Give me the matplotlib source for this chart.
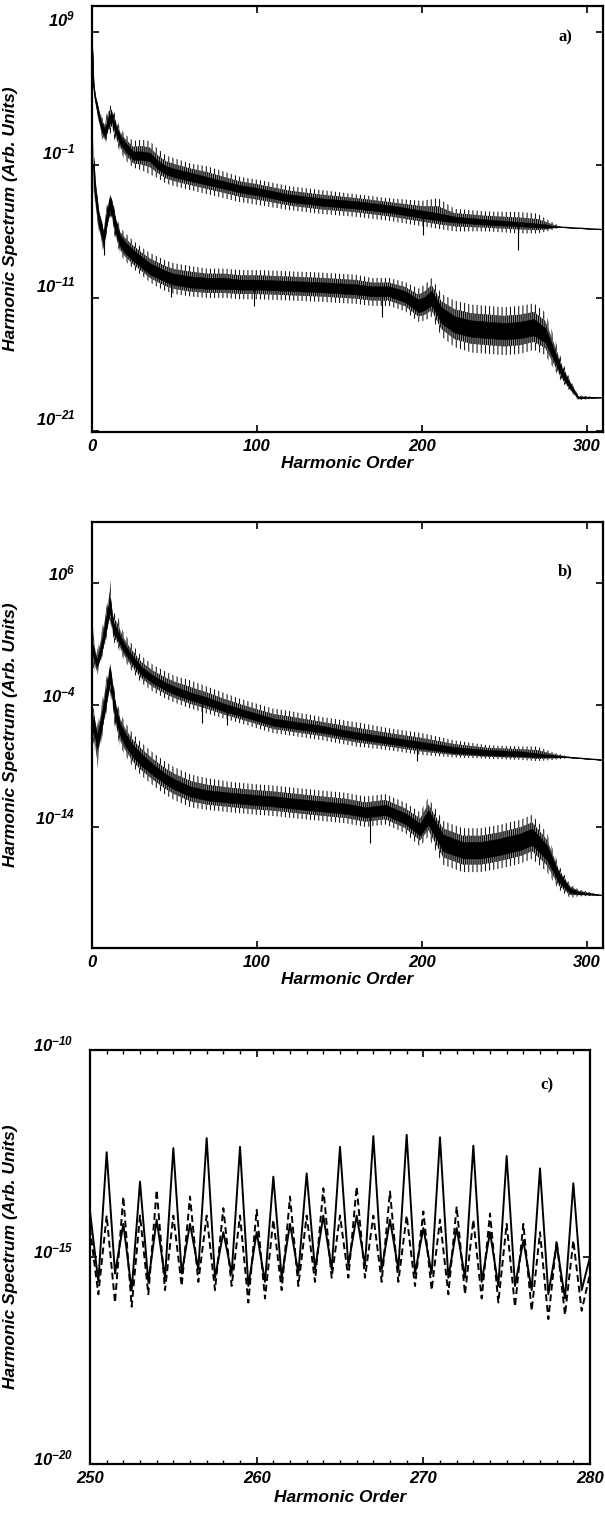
import numpy as np
import matplotlib
matplotlib.use('Agg')
import matplotlib.pyplot as plt
from matplotlib.ticker import FixedLocator, NullLocator, FixedFormatter
from matplotlib.transforms import ScaledTranslation

plt.rcParams['font.family'] = ['Liberation Sans', 'DejaVu Sans']
plt.rcParams['mathtext.fontset'] = 'custom'
plt.rcParams['mathtext.rm'] = 'Liberation Sans:bold:italic'
plt.rcParams['mathtext.it'] = 'Liberation Sans:bold:italic'
plt.rcParams['mathtext.bf'] = 'Liberation Sans:bold:italic'
plt.rcParams['hatch.linewidth'] = 0.7

# ---------------- data (log10 of spectrum) ----------------
# Panel a, upper curve
H_A1 = [0, 1, 2, 4, 6, 8, 10, 12, 14, 17, 20, 25, 30, 35, 40, 45, 50, 60, 70, 80,
        90, 100, 120, 140, 160, 180, 200, 210, 220, 240, 260, 270, 276, 280, 285, 309]
LOG_A1 = [8.5, 5.0, 4.0, 2.8, 1.8, 1.4, 2.3, 2.6, 1.8, 0.9, 0.4, -0.3, -0.3, -0.4, -1.0, -1.4, -1.6, -1.9, -2.2, -2.5,
          -2.8, -3.0, -3.5, -3.8, -4.0, -4.3, -4.7, -4.9, -5.1, -5.3, -5.45, -5.55, -5.6, -5.65, -5.68, -5.85]
CORE_A1 = [0.0, 0.1, 0.2, 0.3, 0.3, 0.32, 0.35, 0.35, 0.32, 0.32, 0.32, 0.32, 0.32, 0.32, 0.32, 0.32, 0.32, 0.32, 0.3, 0.28,
           0.28, 0.28, 0.28, 0.28, 0.28, 0.28, 0.28, 0.28, 0.22, 0.2, 0.16, 0.15, 0.12, 0.04, 0.0, 0.0]
UP_A1 = [0.0, 0.2, 0.3, 0.6, 0.8, 0.9, 1.2, 0.8, 1.0, 0.9, 0.9, 1.1, 1.2, 1.2, 1.2, 1.1, 1.1, 1.0, 1.1, 1.0,
         0.9, 0.9, 0.9, 0.9, 0.8, 0.8, 1.0, 1.4, 0.8, 0.8, 0.9, 0.9, 0.5, 0.3, 0.0, 0.0]
DOWN_A1 = [0.0, 0.2, 0.4, 0.5, 0.8, 0.8, 1.1, 1.1, 1.0, 0.9, 1.0, 0.9, 1.1, 1.3, 1.0, 1.0, 1.0, 1.0, 1.0, 1.0,
           1.0, 1.0, 0.9, 0.9, 0.9, 0.9, 0.9, 0.9, 0.9, 0.7, 0.7, 0.6, 0.4, 0.2, 0.0, 0.0]

# Panel a, lower curve
H_A2 = [1, 2, 4, 6, 7, 9, 11, 12, 14, 17, 20, 25, 30, 35, 40, 45, 50, 60, 70, 80,
        90, 100, 120, 140, 160, 170, 180, 190, 198, 202, 206, 212, 220, 230, 240, 250, 260, 268, 275, 280,
        285, 290, 295, 309]
LOG_A2 = [-1.0, -3.0, -5.0, -6.0, -6.6, -5.0, -3.9, -4.2, -5.5, -6.7, -7.2, -7.8, -8.3, -8.8, -9.1, -9.4, -9.6, -9.8, -9.9, -9.9,
          -10.0, -10.0, -10.1, -10.2, -10.35, -10.5, -10.5, -10.9, -11.6, -11.4, -11.0, -12.3, -13.0, -13.3, -13.4, -13.5, -13.4, -13.2, -13.8, -15.2,
          -16.6, -17.6, -18.5, -18.5]
CORE_A2 = [0.5, 0.6, 0.5, 0.5, 0.4, 0.5, 0.5, 0.5, 0.5, 0.42, 0.42, 0.42, 0.42, 0.42, 0.42, 0.42, 0.42, 0.42, 0.42, 0.42,
           0.38, 0.38, 0.38, 0.38, 0.38, 0.38, 0.38, 0.42, 0.48, 0.5, 0.55, 0.6, 0.62, 0.62, 0.62, 0.62, 0.62, 0.62, 0.55, 0.42,
           0.3, 0.2, 0.05, 0.0]
UP_A2 = [1.9, 1.0, 0.8, 0.8, 0.9, 1.0, 0.6, 0.9, 1.0, 1.0, 1.1, 1.1, 1.1, 1.2, 1.2, 1.2, 1.2, 1.2, 1.1, 1.1,
         1.1, 1.1, 1.1, 1.1, 1.1, 1.0, 1.0, 1.1, 1.3, 1.4, 1.5, 1.6, 1.8, 1.8, 1.8, 1.8, 1.8, 1.8, 1.7, 1.4,
         0.9, 0.5, 0.2, 0.0]
DOWN_A2 = [2.0, 1.2, 0.9, 0.9, 1.2, 1.1, 0.9, 1.0, 1.0, 1.0, 1.0, 1.0, 1.0, 1.0, 1.1, 1.1, 1.1, 1.1, 1.1, 1.1,
           1.1, 1.1, 1.1, 1.1, 1.1, 1.1, 1.1, 1.1, 1.2, 1.3, 1.4, 1.6, 1.7, 1.8, 1.8, 1.8, 1.8, 1.7, 1.5, 1.1,
           0.7, 0.4, 0.2, 0.0]
# isolated long spikes in panel a: order, from, to
SPK_A_X = [201, 258.5, 7, 48, 98, 176]
SPK_A_FROM = [-4.7, -5.4, -6.6, -9.5, -10.0, -10.5]
SPK_A_TO = [-6.3, -7.4, -7.8, -10.9, -11.6, -12.4]

# Panel b, upper curve
H_B1 = [0, 1, 3, 5, 7, 9, 11, 12, 13, 15, 19, 23, 30, 37, 45, 50, 60, 70, 80, 90,
        100, 110, 120, 140, 160, 180, 200, 220, 240, 260, 270, 280, 290, 309]
LOG_B1 = [0.8, 0.2, -0.6, 0.3, 1.5, 3.0, 4.2, 3.2, 2.3, 1.9, 0.8, 0.0, -1.2, -1.9, -2.5, -2.8, -3.3, -3.7, -4.2, -4.6,
          -5.0, -5.4, -5.6, -6.0, -6.5, -6.9, -7.3, -7.7, -7.9, -8.0, -8.1, -8.2, -8.3, -8.5]
CORE_B1 = [0.5, 0.4, 0.3, 0.4, 0.5, 0.6, 0.6, 0.5, 0.45, 0.38, 0.35, 0.32, 0.32, 0.32, 0.32, 0.32, 0.32, 0.32, 0.32, 0.3,
           0.3, 0.3, 0.3, 0.28, 0.28, 0.28, 0.28, 0.25, 0.22, 0.2, 0.16, 0.08, 0.0, 0.0]
UP_B1 = [2.7, 1.5, 1.0, 1.2, 1.4, 1.2, 2.0, 1.2, 1.2, 1.6, 1.2, 1.2, 1.2, 1.2, 1.2, 1.2, 1.3, 1.2, 1.2, 1.1,
         1.1, 1.1, 1.1, 1.0, 1.1, 1.0, 1.0, 0.8, 0.6, 0.6, 0.7, 0.3, 0.05, 0.0]
DOWN_B1 = [1.7, 1.2, 1.0, 1.0, 1.2, 1.4, 1.2, 1.2, 1.1, 1.0, 1.0, 1.0, 1.0, 1.0, 1.0, 1.0, 1.0, 1.0, 0.9, 0.9,
           0.9, 0.9, 0.9, 0.9, 0.9, 0.8, 0.8, 0.6, 0.5, 0.5, 0.5, 0.3, 0.05, 0.0]

# Panel b, lower curve
H_B2 = [0, 1, 3, 5, 7, 9, 11, 12, 14, 17, 20, 25, 30, 37, 45, 50, 60, 70, 84, 100,
        110, 131, 154, 166, 178, 190, 199, 204, 213, 225, 236, 248, 260, 267, 276, 283, 290, 295, 309]
LOG_B2 = [-6.0, -5.5, -7.0, -6.0, -4.5, -3.0, -1.5, -2.5, -4.5, -6.0, -6.8, -7.8, -8.5, -9.3, -10.1, -10.5, -11.1, -11.4, -11.6, -11.8,
          -11.9, -12.2, -12.5, -12.8, -12.6, -13.3, -14.2, -13.2, -15.3, -15.9, -15.9, -15.6, -15.2, -14.8, -16.1, -18.1, -19.2, -19.4, -19.6]
CORE_B2 = [0.6, 0.6, 0.6, 0.6, 0.6, 0.6, 0.6, 0.6, 0.6, 0.5, 0.5, 0.5, 0.5, 0.45, 0.42, 0.42, 0.42, 0.42, 0.42, 0.42,
           0.42, 0.42, 0.42, 0.42, 0.42, 0.45, 0.5, 0.6, 0.68, 0.68, 0.68, 0.68, 0.68, 0.68, 0.6, 0.4, 0.2, 0.1, 0.0]
UP_B2 = [1.3, 1.3, 1.3, 1.4, 1.5, 1.4, 0.9, 1.2, 1.4, 1.4, 1.4, 1.4, 1.4, 1.4, 1.4, 1.4, 1.4, 1.4, 1.3, 1.3,
         1.3, 1.3, 1.3, 1.3, 1.3, 1.3, 1.4, 1.6, 1.8, 1.8, 1.8, 1.8, 1.8, 1.8, 1.6, 1.0, 0.5, 0.3, 0.0]
DOWN_B2 = [1.5, 1.5, 2.3, 1.6, 1.5, 1.4, 1.4, 1.4, 1.4, 1.4, 1.3, 1.3, 1.3, 1.3, 1.3, 1.3, 1.3, 1.2, 1.2, 1.2,
           1.2, 1.2, 1.2, 1.2, 1.2, 1.2, 1.4, 1.6, 1.8, 1.8, 1.8, 1.8, 1.8, 1.8, 1.6, 1.0, 0.6, 0.3, 0.0]
SPK_B_X = [67, 168.5, 82, 197]
SPK_B_FROM = [-3.6, -12.8, -4.3, -7.3]
SPK_B_TO = [-5.5, -15.3, -5.6, -8.6]

# Panel c: values at integer orders 250..280 and at half orders 250.5..279.5
C_ORDERS = list(range(250, 281))
C_SOLID_PEAK = [-13.9, -12.47, -14.2, -13.18, -14.1, -12.37, -14.2, -12.13, -14.4, -12.34,
                -14.4, -13.06, -14.2, -12.98, -14.0, -12.34, -14.0, -12.08, -14.1, -12.05,
                -14.3, -12.11, -14.3, -12.31, -14.4, -12.56, -14.6, -12.86, -14.7, -13.22, -15.0]
C_SOLID_TROUGH = [-15.6, -15.4, -15.8, -15.6, -15.5, -15.4, -15.3, -15.5, -15.4, -15.7,
                  -15.6, -15.5, -15.4, -15.3, -15.3, -15.2, -15.2, -15.3, -15.3, -15.4,
                  -15.4, -15.5, -15.5, -15.6, -15.7, -15.7, -15.8, -15.9, -16.0, -15.8]
C_DASH_PEAK = [-14.3, -14.0, -13.54, -14.0, -13.38, -14.0, -13.54, -14.0, -13.82, -14.0,
               -13.86, -14.1, -13.54, -14.0, -13.34, -14.0, -13.30, -14.0, -13.42, -14.0,
               -13.9, -14.1, -13.78, -14.1, -13.95, -14.2, -14.2, -14.4, -14.6, -14.6, -15.4]
C_DASH_TROUGH = [-15.9, -16.1, -16.2, -15.9, -15.8, -15.7, -15.6, -15.8, -15.7, -16.1,
                 -16.0, -15.8, -15.7, -15.6, -15.5, -15.5, -15.5, -15.6, -15.6, -15.7,
                 -15.8, -15.9, -15.9, -16.0, -16.1, -16.2, -16.3, -16.5, -16.4, -16.3]

XTICKS_AB = [0, 100, 200, 300]
YTICKS_A = [9, -1, -11, -21]
YTICKS_B = [6, -4, -14, -24]
YTICKS_C = [-10, -15, -20]
XTICKS_C = [250, 260, 270, 280]

# ---------------- figure ----------------
W, H = 605, 1513
fig = plt.figure(figsize=(W / 100, H / 100), dpi=100)


def ax_rect(l, r, t, b):
    return [l / W, (H - b) / H, (r - l) / W, (b - t) / H]


ax_a = fig.add_axes(ax_rect(92, 603, 6, 432))
ax_b = fig.add_axes(ax_rect(92, 603, 522, 948))
ax_c = fig.add_axes(ax_rect(90, 590, 1050, 1464))

TICKFS = 12
LABELFS = 12.5


def draw_band(ax, h, c, core, up, down):
    h = np.asarray(h, float)
    c = np.asarray(c, float)
    core = np.asarray(core, float)
    up = np.asarray(up, float)
    down = np.asarray(down, float)
    # outer spikes: vertical hatch
    ax.fill_between(h, 10 ** (c - down), 10 ** (c + up), facecolor='none',
                    edgecolor='black', hatch='||||', linewidth=0)
    # inner, denser part of the spike forest
    ax.fill_between(h, 10 ** (c - core - 0.45 * (down - core)), 10 ** (c + core + 0.45 * (up - core)),
                    facecolor='0.55', edgecolor='black', hatch='||||||||', linewidth=0)
    # dense core
    ax.fill_between(h, 10 ** (c - core), 10 ** (c + core), facecolor='black',
                    edgecolor='black', linewidth=0.3)
    ax.plot(h, 10 ** c, color='black', lw=0.9)


def draw_spikes(ax, xs, y0, y1):
    ax.vlines(xs, 10 ** np.asarray(y0, float), 10 ** np.asarray(y1, float), color='black', lw=0.8)


def style(ax, yt, ylim, shift_px, xticks, xlim, label):
    ax.set_yscale('log')
    ax.set_xlim(*xlim)
    ax.set_ylim(10 ** ylim[0], 10 ** ylim[1])
    ax.yaxis.set_major_locator(FixedLocator([10.0 ** v for v in yt]))
    ax.yaxis.set_major_formatter(FixedFormatter([r'$10^{%d}$' % v for v in yt]))
    ax.yaxis.set_minor_locator(NullLocator())
    ax.xaxis.set_major_locator(FixedLocator(xticks))
    ax.xaxis.set_major_formatter(FixedFormatter([str(v) for v in xticks]))
    for s in ax.spines.values():
        s.set_linewidth(1.6)
    ax.tick_params(which='both', direction='in', top=True, right=True, width=1.2)
    ax.tick_params(which='major', length=5)
    ax.tick_params(axis='y', pad=12, labelsize=TICKFS)
    ax.tick_params(axis='x', pad=5, labelsize=TICKFS)
    for lab in ax.get_xticklabels():
        lab.set_fontweight('bold')
        lab.set_fontstyle('italic')
    off = ScaledTranslation(0, shift_px / 100, fig.dpi_scale_trans)
    for lab in ax.yaxis.get_majorticklabels():
        lab.set_transform(lab.get_transform() + off)
    ax.set_ylabel('Harmonic Spectrum (Arb. Units)', fontsize=LABELFS,
                  fontweight='bold', fontstyle='italic')
    ax.set_xlabel('Harmonic Order', fontsize=LABELFS, fontweight='bold', fontstyle='italic')
    ax.text(label[1], label[2], label[0], transform=ax.transAxes, fontsize=12,
            fontweight='bold', family=['Liberation Serif', 'DejaVu Serif'],
            ha='center', va='center')


# panel a
draw_band(ax_a, H_A1, LOG_A1, CORE_A1, UP_A1, DOWN_A1)
draw_band(ax_a, H_A2, LOG_A2, CORE_A2, UP_A2, DOWN_A2)
draw_spikes(ax_a, SPK_A_X, SPK_A_FROM, SPK_A_TO)
style(ax_a, YTICKS_A, (-21.08, 10.95), 14, XTICKS_AB, (0, 310), ('a)', 0.926, 0.927))
ax_a.yaxis.set_label_coords(-0.145, 0.5)
ax_a.xaxis.set_label_coords(0.5, -0.075)

# panel b
draw_band(ax_b, H_B1, LOG_B1, CORE_B1, UP_B1, DOWN_B1)
draw_band(ax_b, H_B2, LOG_B2, CORE_B2, UP_B2, DOWN_B2)
draw_spikes(ax_b, SPK_B_X, SPK_B_FROM, SPK_B_TO)
style(ax_b, YTICKS_B, (-23.92, 11.0), 11, XTICKS_AB, (0, 310), ('b)', 0.926, 0.883))
ax_b.yaxis.set_label_coords(-0.145, 0.5)
ax_b.xaxis.set_label_coords(0.5, -0.075)

# panel c
n = len(C_ORDERS)
cx = np.empty(2 * n - 1)
cx[0::2] = C_ORDERS
cx[1::2] = np.asarray(C_ORDERS[:-1]) + 0.5
cs = np.empty(2 * n - 1)
cs[0::2] = C_SOLID_PEAK
cs[1::2] = C_SOLID_TROUGH
cd = np.empty(2 * n - 1)
cd[0::2] = C_DASH_PEAK
cd[1::2] = C_DASH_TROUGH
ax_c.plot(cx, 10 ** cd, color='black', lw=1.4, linestyle=(0, (3.5, 2)))
ax_c.plot(cx, 10 ** cs, color='black', lw=1.4)
style(ax_c, YTICKS_C, (-20, -10), 7, XTICKS_C, (250, 280), ('c)', 0.914, 0.915))
ax_c.xaxis.set_minor_locator(FixedLocator(list(range(250, 281))))
ax_c.tick_params(which='minor', length=3, width=1.0)
ax_c.yaxis.set_label_coords(-0.144, 0.5)
ax_c.xaxis.set_label_coords(0.5, -0.08)

for ax in (ax_a, ax_b, ax_c):
    ax.xaxis.label.set_va('center')

fig.savefig('out.png', dpi=100)
